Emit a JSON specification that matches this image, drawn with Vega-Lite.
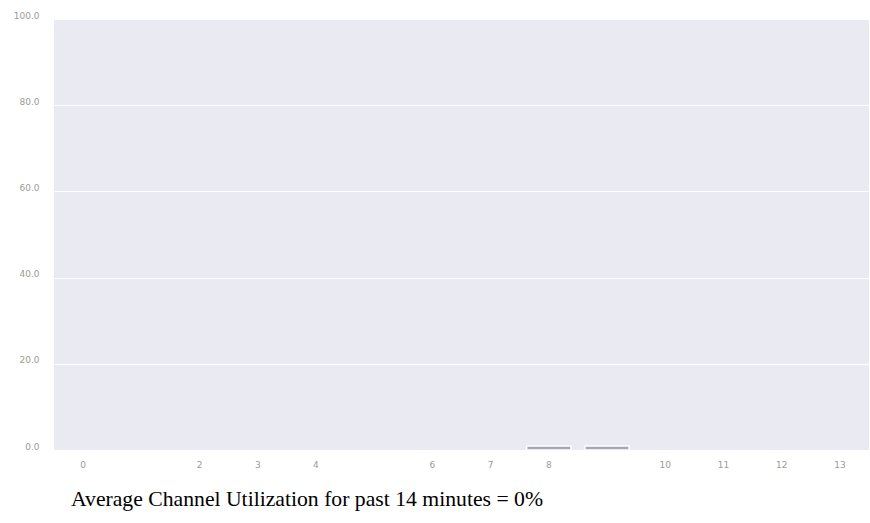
{
  "$schema": "https://vega.github.io/schema/vega-lite/v6.json",
  "width": 815,
  "height": 431,
  "autosize": "none",
  "padding": {"left": 54, "top": 19, "right": 1, "bottom": 73},
  "background": "white",
  "view": {"fill": "#EAEAF2", "stroke": null},
  "title": {
    "text": "Average Channel Utilization for past 14 minutes = 0%",
    "orient": "bottom",
    "anchor": "start",
    "frame": "group",
    "font": "Liberation Serif",
    "fontSize": 21.7,
    "fontWeight": "normal",
    "color": "#000000",
    "dx": 17,
    "offset": 20
  },
  "data": {
    "values": [
      {"minute": 0, "utilization": 0},
      {"minute": 1, "utilization": 0},
      {"minute": 2, "utilization": 0},
      {"minute": 3, "utilization": 0},
      {"minute": 4, "utilization": 0},
      {"minute": 5, "utilization": 0},
      {"minute": 6, "utilization": 0},
      {"minute": 7, "utilization": 0},
      {"minute": 8, "utilization": 0.9},
      {"minute": 9, "utilization": 0.9},
      {"minute": 10, "utilization": 0},
      {"minute": 11, "utilization": 0},
      {"minute": 12, "utilization": 0},
      {"minute": 13, "utilization": 0}
    ]
  },
  "mark": {"type": "bar", "fill": "#A4A6BA", "stroke": "white"},
  "encoding": {
    "strokeWidth": {"condition": {"test": "datum.utilization > 0", "value": 1.5}, "value": 0},
    "x": {
      "field": "minute",
      "type": "ordinal",
      "scale": {"paddingInner": 0.24, "paddingOuter": 0.12},
      "axis": {
        "title": null,
        "values": [0, 2, 3, 4, 6, 7, 8, 10, 11, 12, 13],
        "labelAngle": 0,
        "domain": false,
        "ticks": false,
        "grid": false,
        "labelFont": "DejaVu Sans",
        "labelFontSize": 9,
        "labelColor": "#9E9A92",
        "labelPadding": 10
      }
    },
    "y": {
      "field": "utilization",
      "type": "quantitative",
      "scale": {"domain": [0, 100]},
      "axis": {
        "title": null,
        "values": [0, 20, 40, 60, 80, 100],
        "format": ".1f",
        "domain": false,
        "ticks": false,
        "grid": true,
        "gridColor": "white",
        "gridWidth": 1,
        "labelFont": "DejaVu Sans",
        "labelFontSize": 9,
        "labelColor": "#9E9A92",
        "labelPadding": 15,
        "labelOffset": -4
      }
    }
  }
}
